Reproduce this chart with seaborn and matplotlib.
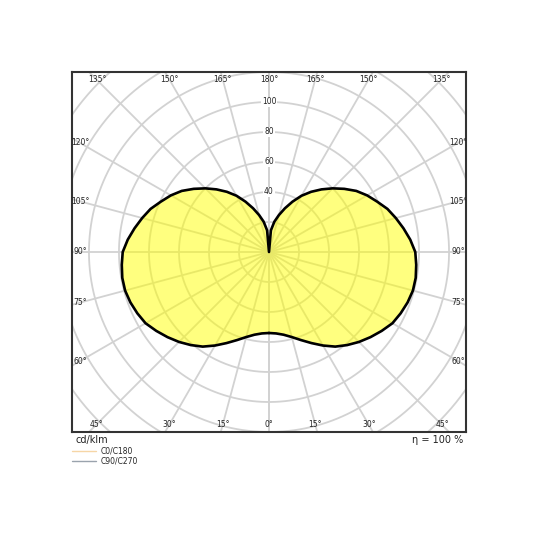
import numpy as np
import pandas as pd
import matplotlib.pyplot as plt
from matplotlib.lines import Line2D
import seaborn as sns

# Luminous intensity (cd/klm) vs. gamma angle, symmetric light distribution
gamma_deg = [0, 5, 10, 15, 20, 25, 30, 35, 40, 45, 50, 55, 60, 65, 70, 75, 80, 85,
             90, 95, 100, 105, 110, 115, 120, 125, 130, 135, 140, 145, 150, 155,
             160, 165, 170, 175, 180]
intensity = [54, 54.5, 56, 58.7, 62.5, 67, 72, 77, 81, 84.8, 88.3, 91.7, 95, 96.8,
             98.3, 99.3, 99.3, 98.5, 97.5, 94.5, 91, 87.5, 84, 79.5, 75.5, 71, 65.5,
             60, 54.5, 49, 43.3, 37, 31, 25.5, 20.5, 14.5, 0]

ring_values = [20, 40, 60, 80, 100, 120, 140, 160, 180, 200]
ring_labels = [40, 60, 80, 100]
spoke_angles = [0, 15, 30, 45, 60, 75, 90, 105, 120, 135, 150, 165, 180]
legend_names = ["C0/C180", "C90/C270"]
legend_colors = ["#f6d6a6", "#9aa3ad"]
unit_text = "cd/klm"
eta_text = "η = 100 %"


def polar_to_xy(g, r, side):
    g = np.radians(np.asarray(g, dtype=float))
    r = np.asarray(r, dtype=float)
    return side * r * np.sin(g), -r * np.cos(g)


sns.set_style("white")
fig = plt.figure(figsize=(5.4, 5.4), dpi=100)
ax = fig.add_axes([72 / 540, 1 - 432 / 540, 394 / 540, 360 / 540])

xmax, ymax = 131.3, 120
ax.set_xlim(-xmax, xmax)
ax.set_ylim(-ymax, ymax)

grid_kw = dict(color="#d2d2d2", lw=1.3, zorder=1)
t = np.linspace(0, 2 * np.pi, 400)
for rv in ring_values:
    ax.plot(rv * np.cos(t), rv * np.sin(t), **grid_kw)
for g in spoke_angles:
    for side in (-1, 1):
        x, y = polar_to_xy([g, g], [0, 300], side)
        ax.plot(x, y, **grid_kw)

# outline: left half from 0 to 180, then right half back down
xl, yl = polar_to_xy(gamma_deg, intensity, -1)
xr, yr = polar_to_xy(gamma_deg[::-1], intensity[::-1], 1)
curve = pd.DataFrame({"x": np.concatenate([xl, xr]), "y": np.concatenate([yl, yr])})
ax.fill(curve["x"], curve["y"], color="#ffff00", alpha=0.5, lw=0, zorder=2)
sns.lineplot(data=curve, x="x", y="y", sort=False, estimator=None,
             color="black", lw=1.9, ax=ax, zorder=3,
             solid_joinstyle="round", solid_capstyle="round")

# radial labels along the upward spoke
for rv in ring_labels:
    ax.text(0, rv, str(rv), ha="center", va="center", fontsize=5.5, zorder=4,
            color="#222222", bbox=dict(facecolor="white", edgecolor="none", pad=0.6))

# angle labels along the inside of the frame
xi, yi_top, yi_bot = 126.0, 114.7, 115.3
for g in spoke_angles:
    sides = (-1,) if g in (0, 180) else (-1, 1)
    for side in sides:
        dx, dy = polar_to_xy(g, 1.0, side)
        lims = []
        if abs(dx) > 1e-9:
            lims.append(xi / abs(dx))
        if abs(dy) > 1e-9:
            lims.append((yi_top if dy > 0 else yi_bot) / abs(dy))
        r = min(lims)
        ax.text(r * dx, r * dy, f"{g}°", ha="center", va="center", fontsize=5.5,
                color="#222222", clip_on=True, zorder=4)

ax.set_xticks([])
ax.set_yticks([])
ax.set_xlabel("")
ax.set_ylabel("")
for sp in ax.spines.values():
    sp.set_visible(True)
    sp.set_color("#333333")
    sp.set_linewidth(1.5)

fig.text(76 / 540, 1 - 440 / 540, unit_text, ha="left", va="center", fontsize=7, color="#222222")
fig.text(463 / 540, 1 - 440 / 540, eta_text, ha="right", va="center", fontsize=7, color="#222222")

handles = [Line2D([], [], color=c, lw=1) for c in legend_colors]
fig.legend(handles, legend_names, loc="upper left", bbox_to_anchor=(72 / 540, 1 - 447 / 540),
           frameon=False, fontsize=5.5, handlelength=3.2, handletextpad=0.6,
           labelspacing=0.05, borderpad=0, borderaxespad=0)

fig.savefig("out.png", dpi=100)
